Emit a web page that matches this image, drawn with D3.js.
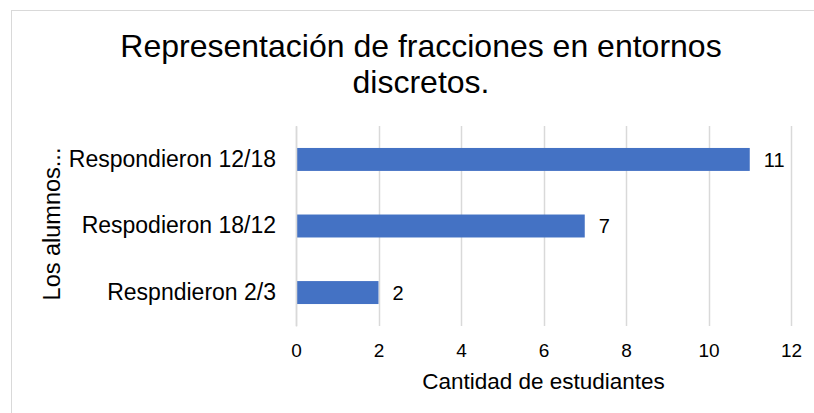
<!DOCTYPE html>
<html>
<head>
<meta charset="utf-8">
<script src="https://cdn.jsdelivr.net/npm/d3@7"></script>
<style>
  body { margin: 0; background: #fff; }
  text { font-family: "Liberation Sans", Arial, sans-serif; fill: #000; }
</style>
</head>
<body>
<div id="chart"></div>
<script>
// Data
var categories = ["Respondieron 12/18", "Respodieron 18/12", "Respndieron 2/3"];
var values = [11, 7, 2];
var xTicks = [0, 2, 4, 6, 8, 10, 12];

var W = 814, H = 413;
var margin = { top: 126, left: 296, right: 23, bottom: 87 };
var width = W - margin.left - margin.right,
    height = H - margin.top - margin.bottom;

var svg = d3.select('#chart').append('svg')
    .attr('width', W)
    .attr('height', H);

// outer chart border
svg.append('rect')
    .attr('x', 11.5).attr('y', 10.5)
    .attr('width', W).attr('height', H)
    .attr('fill', 'none')
    .attr('stroke', '#d9d9d9');

var g = svg.append('g')
    .attr('transform', 'translate(' + margin.left + ',' + margin.top + ')');

var x = d3.scaleLinear().domain([0, 12]).range([0, width]);
var y = d3.scaleBand().domain(categories).range([0, height]).paddingInner(0.655).paddingOuter(0.33);

// gridlines
g.selectAll('.grid')
    .data(xTicks)
    .enter().append('line')
    .attr('x1', function (d) { return Math.round(x(d)) + 0.5; })
    .attr('x2', function (d) { return Math.round(x(d)) + 0.5; })
    .attr('y1', 0).attr('y2', height)
    .attr('stroke', '#d9d9d9')
    .attr('stroke-width', 1.5);

// bars
g.selectAll('.bar')
    .data(values)
    .enter().append('rect')
    .attr('x', x(0))
    .attr('y', function (d, i) { return y(categories[i]); })
    .attr('width', function (d) { return x(d) - x(0); })
    .attr('height', y.bandwidth())
    .attr('fill', '#4472c4');

// value labels
g.selectAll('.val')
    .data(values)
    .enter().append('text')
    .attr('x', function (d) { return x(d) + 14; })
    .attr('y', function (d, i) { return y(categories[i]) + y.bandwidth() / 2; })
    .attr('dy', '0.36em')
    .style('font-size', '20px')
    .text(function (d) { return d; });

// x axis tick labels
var xAxis = d3.axisBottom(x).tickValues(xTicks).tickSize(0).tickPadding(18);
var xg = g.append('g').attr('transform', 'translate(0,' + height + ')').call(xAxis);
xg.select('.domain').remove();
xg.selectAll('text').style('font-size', '19px').style('font-family', '"Liberation Sans", Arial, sans-serif').attr('fill', '#000');

// y axis
var yAxis = d3.axisLeft(y).tickSize(0).tickPadding(20);
var yg = g.append('g').call(yAxis);
yg.select('.domain').attr('stroke', '#d9d9d9').attr('stroke-width', 1.5);
yg.selectAll('text').style('font-size', '23px').style('font-family', '"Liberation Sans", Arial, sans-serif').attr('fill', '#000');

// titles
svg.append('text')
    .attr('x', 421).attr('y', 57)
    .attr('text-anchor', 'middle')
    .style('font-size', '32px')
    .text('Representación de fracciones en entornos');
svg.append('text')
    .attr('x', 421).attr('y', 93)
    .attr('text-anchor', 'middle')
    .style('font-size', '32px')
    .text('discretos.');

svg.append('text')
    .attr('x', margin.left + width / 2).attr('y', 389)
    .attr('text-anchor', 'middle')
    .style('font-size', '22.5px')
    .text('Cantidad de estudiantes');

svg.append('text')
    .attr('transform', 'translate(60,' + (margin.top + height / 2 - 2) + ') rotate(-90)')
    .attr('text-anchor', 'middle')
    .style('font-size', '23.5px')
    .text('Los alumnos...');
</script>
</body>
</html>
